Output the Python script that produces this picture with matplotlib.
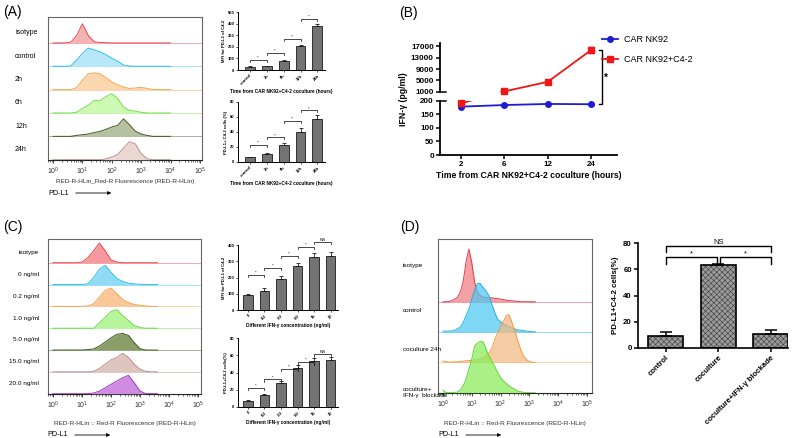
import numpy as np
import matplotlib
matplotlib.use("Agg")
import matplotlib.pyplot as plt
import matplotlib.transforms as mtransforms
from matplotlib.patches import Rectangle
from matplotlib.lines import Line2D

plt.rcParams['font.family'] = ['Liberation Sans', 'DejaVu Sans']
plt.rcParams['hatch.linewidth'] = 0.4

W, H = 800, 438

# ---------------- data ----------------
# (A) flow histograms, heights in row units on a log10 grid
hist_a_logx = [0.0, 0.2, 0.4, 0.6, 0.8, 1.0, 1.2, 1.4, 1.6, 1.8, 2.0,
               2.2, 2.4, 2.6, 2.8, 3.0, 3.2, 3.4, 3.6, 3.8, 4.0]
hist_a_labels = ['isotype', 'control', '2h', '6h', '12h', '24h']
hist_a_isotype = [0, 0, 0, 0.03, 0.3, 0.82, 0.32, 0.05, 0.02, 0.01, 0, 0, 0, 0, 0, 0, 0, 0, 0, 0, 0]
hist_a_control = [0, 0, 0, 0.01, 0.26, 0.55, 0.78, 0.7, 0.62, 0.5, 0.34, 0.22, 0.05, 0.01, 0, 0, 0, 0, 0, 0, 0]
hist_a_2h = [0, 0, 0, 0, 0.08, 0.4, 0.68, 0.72, 0.68, 0.52, 0.33, 0.21, 0.11, 0.05, 0.07, 0.1, 0.05, 0.01, 0, 0, 0]
hist_a_6h = [0, 0, 0, 0, 0.03, 0.19, 0.33, 0.54, 0.52, 0.7, 0.83, 0.62, 0.26, 0.11, 0.08, 0.03, 0, 0, 0, 0, 0]
hist_a_12h = [0, 0, 0, 0, 0.04, 0.07, 0.1, 0.16, 0.21, 0.3, 0.4, 0.47, 0.75, 0.5, 0.22, 0.1, 0.04, 0, 0, 0, 0]
hist_a_24h = [0, 0, 0, 0, 0, 0, 0, 0, 0, 0.04, 0.11, 0.22, 0.5, 0.77, 0.68, 0.26, 0.04, 0, 0, 0, 0]

# (A) bar charts
a_groups = ['control', '2h', '6h', '12h', '24h']
a_mfi = [28, 32, 80, 205, 380]
a_mfi_err = [3, 5, 6, 10, 15]
a_mfi_sig_y = [86, 146, 267, 440]
a_mfi_sig = ['*', '*', '*', '*']
a_pct = [6, 10, 22, 40, 57]
a_pct_err = [1, 2.5, 3, 5.5, 5.5]
a_pct_sig_y = [22.7, 33, 55, 69]
a_pct_sig = ['*', '*', '*', '*']

# (B) IFN-gamma
b_times = ['2', '6', '12', '24']
b_nk92 = [178, 184, 188, 187]
b_nk92_err = [3, 2, 2, 2]
b_cocult = [190, 1100, 4500, 15800]
b_cocult_err = [10, 150, 300, 1000]
b_yticks = [0, 50, 100, 150, 200, 1000, 5000, 9000, 13000, 17000]

# (C) flow histograms
hist_c_logx = [0.0, 0.2, 0.4, 0.6, 0.8, 1.0, 1.2, 1.4, 1.6, 1.8, 2.0,
               2.2, 2.4, 2.6, 2.8, 3.0, 3.2, 3.4, 3.6]
hist_c_labels = ['isotype', '0 ng/ml', '0.2 ng/ml', '1.0 ng/ml', '5.0 ng/ml', '15.0 ng/ml', '20.0 ng/ml']
hist_c_isotype = [0, 0, 0, 0, 0, 0.03, 0.23, 0.55, 0.9, 0.55, 0.13, 0.03, 0, 0, 0, 0, 0, 0, 0]
hist_c_0 = [0, 0, 0, 0, 0, 0, 0.03, 0.32, 0.7, 0.88, 0.56, 0.28, 0.14, 0.06, 0.03, 0.01, 0, 0, 0]
hist_c_02 = [0, 0, 0, 0, 0, 0, 0.02, 0.12, 0.43, 0.73, 0.84, 0.58, 0.32, 0.17, 0.09, 0.05, 0.02, 0, 0]
hist_c_1 = [0, 0, 0, 0, 0, 0, 0, 0, 0.24, 0.5, 0.76, 0.85, 0.58, 0.35, 0.12, 0.03, 0, 0, 0]
hist_c_5 = [0, 0, 0, 0, 0, 0, 0.02, 0.05, 0.18, 0.37, 0.56, 0.72, 0.76, 0.67, 0.34, 0.06, 0, 0, 0]
hist_c_15 = [0, 0, 0, 0, 0, 0, 0, 0.03, 0.15, 0.35, 0.55, 0.66, 0.85, 0.66, 0.35, 0.12, 0.02, 0, 0]
hist_c_20 = [0, 0, 0, 0, 0, 0, 0, 0.03, 0.12, 0.27, 0.43, 0.58, 0.73, 0.84, 0.5, 0.12, 0, 0, 0]

# (C) bar charts
c_groups = ['0', '0.2', '1.0', '5.0', '15', '20']
c_mfi = [90, 120, 190, 270, 325, 330]
c_mfi_err = [10, 15, 18, 22, 28, 30]
c_mfi_sig_y = [215, 258, 332, 388, 418]
c_mfi_sig = ['*', '*', '*', '*', 'NS']
c_pct = [7, 14, 28, 45, 53, 54]
c_pct_err = [1, 1.5, 2.5, 3.5, 4, 3.5]
c_pct_sig_y = [22, 32, 44, 52, 61]
c_pct_sig = ['*', '*', '*', '*', 'NS']

# (D) flow histograms
hist_d_logx = [0.0, 0.1, 0.2, 0.3, 0.4, 0.5, 0.6, 0.7, 0.8, 0.9, 1.0,
               1.1, 1.2, 1.3, 1.4, 1.5, 1.6, 1.7, 1.8, 1.9, 2.0,
               2.1, 2.2, 2.3, 2.4, 2.5, 2.6, 2.7, 2.8, 2.9, 3.0, 3.1, 3.2]
hist_d_labels = ['isotype', 'control', 'coculture 24h', 'coculture+\nIFN-\u03b3  blockade']
hist_d_isotype = [0, 0, 0.01, 0.03, 0.08, 0.14, 0.31, 0.64, 1.3, 1.74, 1.3, 0.64, 0.31, 0.2, 0.16, 0.14, 0.13,
                  0.13, 0.11, 0.1, 0.09, 0.07, 0.05, 0.04, 0.03, 0.02, 0.01, 0, 0, 0, 0, 0, 0]
hist_d_control = [0.03, 0.03, 0.03, 0.04, 0.05, 0.11, 0.16, 0.31, 0.53, 0.75, 1.08, 1.4, 1.6, 1.6, 1.46, 1.35,
                  1.19, 0.91, 0.64, 0.42, 0.34, 0.27, 0.23, 0.19, 0.14, 0.1, 0.07, 0.06, 0.05, 0.03, 0.02, 0.01, 0.01]
hist_d_cocult = [0.05, 0.02, 0.01, 0.01, 0.02, 0.02, 0.03, 0.04, 0.05, 0.06, 0.07, 0.08, 0.09, 0.12, 0.16, 0.23,
                 0.31, 0.47, 0.75, 0.97, 1.19, 1.35, 1.55, 1.57, 1.3, 1.02, 0.69, 0.42, 0.2, 0.09, 0.03, 0.01, 0]
hist_d_block = [0.08, 0.01, 0, 0, 0.01, 0.02, 0.09, 0.22, 0.44, 0.77, 1.1, 1.54, 1.63, 1.7, 1.67, 1.43,
                1.21, 1.04, 0.86, 0.66, 0.49, 0.38, 0.3, 0.22, 0.16, 0.11, 0.05, 0.03, 0.01, 0, 0, 0, 0]

# (D) bar chart
d_groups = ['control', 'coculture', 'coculture+IFN-\u03b3 blockade']
d_pct = [9, 63, 11]
d_pct_err = [3.5, 0.8, 3]

# ---------------- figure ----------------
fig = plt.figure(figsize=(W / 100, H / 100), dpi=100)


def px_axes(x0, y0, x1, y1):
    return fig.add_axes([x0 / W, 1 - y1 / H, (x1 - x0) / W, (y1 - y0) / H])


def fx(x):
    return x / W


def fy(y):
    return 1 - y / H


def hist_panel(ax, logx, curves, colors, alpha, xlo, xhi, ytop):
    xs = 10.0 ** np.asarray(logx)
    n = len(curves)
    for k, (h, (fc, ec)) in enumerate(zip(curves, colors)):
        base = n - 1 - k
        top = base + np.asarray(h)
        ax.axhline(base, color=ec, lw=0.6, alpha=0.55, zorder=1)
        ax.fill_between(xs, base, top, color=fc, alpha=alpha, lw=0, zorder=2 + 2 * k)
        ax.plot(xs, top, color=ec, lw=0.7, zorder=3 + 2 * k)
    ax.set_xscale('log')
    ax.set_xlim(10 ** xlo, 10 ** xhi)
    ax.set_ylim(0, ytop)
    ax.set_yticks([])
    ax.set_xticks([1, 10, 100, 1000, 1e4, 1e5])
    ax.tick_params(axis='x', which='major', length=2.5, width=0.5, labelsize=5, pad=2,
                   labelcolor='#333333')
    ax.tick_params(axis='x', which='minor', length=1.3, width=0.4)
    for s in ax.spines.values():
        s.set_color('#666666')
        s.set_linewidth(0.8)
    ax.spines['bottom'].set_color('#222222')


def pd_l1_arrow(x, y, xlabel_text, xlabel_x):
    fig.text(fx(xlabel_x), fy(y - 12), xlabel_text, fontsize=4.6, ha='center', va='center', color='#333333')
    fig.text(fx(x), fy(y), 'PD-L1', fontsize=5.2, ha='left', va='center')
    fig.add_artist(matplotlib.patches.FancyArrowPatch((fx(x + 25), fy(y)), (fx(x + 66), fy(y)),
                                                      transform=fig.transFigure, arrowstyle='-|>',
                                                      mutation_scale=5, lw=0.6, color='k'))


def bracket(ax, i, j, y, txt, h, fs, lw=0.5):
    ax.plot([i, i, j, j], [y - h, y, y, y - h], color='k', lw=lw, clip_on=False)
    ax.text((i + j) / 2, y, txt, ha='center', va='bottom', fontsize=fs, clip_on=False)


def small_bars(ax, groups, vals, errs, sig_y, sig, ymax, ystep, ylabel, xlabel, xlim):
    x = np.arange(len(vals))
    ax.bar(x, vals, width=0.58, color='#737373', edgecolor='#1a1a1a', lw=0.6, zorder=2)
    ax.errorbar(x, vals, yerr=[np.zeros(len(errs)), errs], fmt='none', ecolor='#1a1a1a',
                elinewidth=0.6, capsize=1.6, capthick=0.6, zorder=3)
    for k, (yv, txt) in enumerate(zip(sig_y, sig)):
        bracket(ax, x[k], x[k + 1], yv, txt, ymax * 0.035, 3.2)
    ax.set_xlim(*xlim)
    ax.set_ylim(0, ymax)
    ax.set_yticks(np.arange(0, ymax + 1, ystep))
    ax.set_xticks(x)
    ax.set_xticklabels(groups, rotation=45, ha='right', rotation_mode='anchor', fontsize=3, fontweight='bold')
    for lab in ax.get_yticklabels():
        lab.set_fontweight('bold')
    ax.tick_params(length=1.5, width=0.5, labelsize=3, pad=1)
    for s in ['top', 'right']:
        ax.spines[s].set_visible(False)
    for s in ['left', 'bottom']:
        ax.spines[s].set_linewidth(0.7)
    ax.set_ylabel(ylabel, fontsize=3.1, fontweight='bold', labelpad=1.5)
    ax.set_xlabel(xlabel, fontsize=3.4, fontweight='bold', labelpad=2)


# ---- (A) histograms ----
ax_ah = px_axes(47.7, 17, 201.7, 159.7)
a_colors = [('#f6b3b3', '#e8474f'), ('#b6e8fa', '#2cc0ea'), ('#fbd7b0', '#f2a550'),
            ('#cdf9b3', '#70e04c'), ('#b5c0a0', '#3d5a22'), ('#ecd6d2', '#b98f88')]
hist_panel(ax_ah, hist_a_logx,
           [hist_a_isotype, hist_a_control, hist_a_2h, hist_a_6h, hist_a_12h, hist_a_24h],
           a_colors, 1.0, -0.18, 5.06, 6.11)
tr = mtransforms.blended_transform_factory(fig.transFigure, ax_ah.transData)
for k, lab in enumerate(hist_a_labels):
    ax_ah.text(fx(15), len(hist_a_labels) - 1 - k + 0.43, lab, transform=tr, fontsize=5,
               ha='left', va='center')
pd_l1_arrow(48, 193, 'RED-R-HLin_Red-R Fluorescence (RED-R-HLin)', 125)

# ---- (A) bars ----
ax_a1 = px_axes(238, 12, 325, 70)
small_bars(ax_a1, a_groups, a_mfi, a_mfi_err, a_mfi_sig_y, a_mfi_sig, 500, 100,
           'MFI for PD-L1 of C4-2', 'Time from CAR NK92+C4-2 coculture (hours)', (-0.7, 4.45))
ax_a2 = px_axes(238, 102, 325, 162)
small_bars(ax_a2, a_groups, a_pct, a_pct_err, a_pct_sig_y, a_pct_sig, 80, 20,
           'PD-L1+ C4-2 cells (%)', 'Time from CAR NK92+C4-2 coculture (hours)', (-0.7, 4.45))

# ---- (B) IFN-gamma with broken axis ----
blue, red = '#1c1cd4', '#f01616'
axb = px_axes(440, 42.8, 617, 155)
brk_y = [-1000, 0, 200, 1000, 100000]
brk_t = [-271.5, 0, 54.3, 63.3, 63.3 + 99000 / 4000 * 11.3]
axb.set_yscale('function', functions=(lambda v: np.interp(v, brk_y, brk_t),
                                      lambda t: np.interp(t, brk_t, brk_y)))
bx = np.arange(len(b_times))
axb.plot(bx, b_nk92, color=blue, lw=1.3, zorder=3)
axb.errorbar(bx, b_nk92, yerr=b_nk92_err, fmt='o', color=blue, ms=4, capsize=2, elinewidth=1, zorder=4)
for y0, hgt in [(0, 200), (1000, 60000)]:
    clip = Rectangle((-1, y0), 6, hgt, transform=axb.transData)
    ln, = axb.plot(bx, b_cocult, color=red, lw=1.3, zorder=3)
    ln.set_clip_path(clip)
axb.errorbar(bx, b_cocult, yerr=b_cocult_err, fmt='s', color=red, ms=4, capsize=2, elinewidth=1,
             zorder=4, clip_on=False)
axb.set_xlim(-0.48, 3.59)
axb.set_ylim(0, 18300)
axb.set_yticks(b_yticks)
axb.set_yticklabels([str(v) for v in b_yticks])
axb.set_xticks(bx)
axb.set_xticklabels(b_times)
axb.minorticks_off()
axb.spines['top'].set_visible(False)
axb.spines['right'].set_visible(False)
axb.spines['left'].set_visible(False)
axb.spines['bottom'].set_linewidth(1.3)
ytr = axb.get_yaxis_transform()
for seg in [(0, 200), (1000, 18300)]:
    axb.plot([0, 0], seg, transform=ytr, color='k', lw=1.3, clip_on=False)
for yb in [200, 1000]:
    axb.plot([0, 0.035], [yb, yb], transform=ytr, color='k', lw=1.1, clip_on=False)
axb.tick_params(length=3, width=1.1, labelsize=5.8, pad=1.5)
for lab in axb.get_xticklabels() + axb.get_yticklabels():
    lab.set_fontweight('bold')
axb.set_ylabel('IFN-\u03b3 (pg/ml)', fontsize=6.3, fontweight='bold', labelpad=2)
axb.set_xlabel('Time from CAR NK92+C4-2 coculture (hours)', fontsize=6.2, fontweight='bold', labelpad=2)
# significance bracket between the two series at 24 h
axb.plot([3.17, 3.25, 3.25, 3.17], [b_cocult[3], b_cocult[3], b_nk92[3], b_nk92[3]],
         color='k', lw=1, clip_on=False)
axb.text(3.33, 5800, '*', fontsize=7, fontweight='bold', ha='center', va='center', clip_on=False)
handles = [Line2D([], [], color=blue, marker='o', ms=4, lw=1.3),
           Line2D([], [], color=red, marker='s', ms=4, lw=1.3)]
fig.legend(handles, ['CAR NK92', 'CAR NK92+C4-2'], loc='upper left',
           bbox_to_anchor=(fx(602), fy(35)), frameon=False, fontsize=6.5, handlelength=1.8,
           labelspacing=1.25, borderaxespad=0, borderpad=0, handletextpad=0.6)

# ---- (C) histograms ----
ax_ch = px_axes(47.7, 238.7, 201, 393.7)
c_colors = [('#f49a9c', '#e8474f'), ('#90dcf6', '#2cc0ea'), ('#fac898', '#f2a550'),
            ('#b8f59a', '#66dd44'), ('#8a9f68', '#3d5a22'), ('#dfc5c0', '#b98f88'),
            ('#cf8ce0', '#9b35c4')]
hist_panel(ax_ch, hist_c_logx,
           [hist_c_isotype, hist_c_0, hist_c_02, hist_c_1, hist_c_5, hist_c_15, hist_c_20],
           c_colors, 1.0, -0.18, 5.1, 7.1)
tr = mtransforms.blended_transform_factory(fig.transFigure, ax_ch.transData)
for k, lab in enumerate(hist_c_labels):
    ax_ch.text(fx(39), len(hist_c_labels) - 1 - k + 0.46, lab, transform=tr, fontsize=4.6,
               ha='right', va='center')
pd_l1_arrow(47, 435, 'RED-R-HLin :: Red-R Fluorescence (RED-R-HLin)', 125)

# ---- (C) bars ----
ax_c1 = px_axes(238, 245, 338, 310)
small_bars(ax_c1, c_groups, c_mfi, c_mfi_err, c_mfi_sig_y, c_mfi_sig, 400, 100,
           'MFI for PD-L1 of C4-2', 'Different IFN-\u03b3 concentration (ng/ml)', (-0.6, 5.45))
ax_c2 = px_axes(238, 338, 338, 407)
small_bars(ax_c2, c_groups, c_pct, c_pct_err, c_pct_sig_y, c_pct_sig, 80, 20,
           'PD-L1+C4-2 cells(%)', 'Different IFN-\u03b3 concentration (ng/ml)', (-0.6, 5.45))

# ---- (D) histograms ----
ax_dh = px_axes(437.7, 239, 592.3, 392.7)
d_colors = [('#f07a80', '#e03a48'), ('#4cc8f0', '#20b0e0'), ('#f5b880', '#f09a40'), ('#88ec58', '#5cd830')]
hist_panel(ax_dh, hist_d_logx, [hist_d_isotype, hist_d_control, hist_d_cocult, hist_d_block],
           d_colors, 0.72, -0.18, 5.18, 5.07)
tr = mtransforms.blended_transform_factory(fig.transFigure, ax_dh.transData)
for lab, yl in zip(hist_d_labels, [4.18, 2.72, 1.41, 0.0]):
    ax_dh.text(fx(403), yl, lab, transform=tr, fontsize=4.6, ha='left', va='center', linespacing=1.3)
pd_l1_arrow(438, 435, 'RED-R-HLin :: Red-R Fluorescence (RED-R-HLin)', 515)

# ---- (D) bars ----
ax_d = px_axes(638, 243, 788, 348)
dx = np.arange(len(d_pct))
ax_d.bar(dx, d_pct, width=0.66, color='#9c9c9c', edgecolor='#3a3a3a', hatch='xxxxxx', lw=0, zorder=2)
ax_d.bar(dx, d_pct, width=0.66, fill=False, edgecolor='k', lw=1.2, zorder=3)
ax_d.errorbar(dx, d_pct, yerr=[np.zeros(len(d_pct_err)), d_pct_err], fmt='none', ecolor='k',
              elinewidth=1.1, capsize=4, capthick=1.1, zorder=4)
bracket(ax_d, dx[0], dx[1] - 0.03, 69, '*', 5, 5.5, lw=1)
bracket(ax_d, dx[1] + 0.03, dx[2], 69, '*', 5, 5.5, lw=1)
bracket(ax_d, dx[0], dx[2], 78, 'NS', 5, 5.5, lw=1)
ax_d.set_xlim(-0.53, 2.33)
ax_d.set_ylim(0, 80)
ax_d.set_yticks([0, 20, 40, 60, 80])
ax_d.set_xticks(dx)
ax_d.set_xticklabels(d_groups, rotation=45, ha='right', rotation_mode='anchor')
for s in ['top', 'right']:
    ax_d.spines[s].set_visible(False)
for s in ['left', 'bottom']:
    ax_d.spines[s].set_linewidth(1.2)
ax_d.tick_params(length=3, width=1.1, labelsize=5.6, pad=1.5)
for lab in ax_d.get_xticklabels() + ax_d.get_yticklabels():
    lab.set_fontweight('bold')
ax_d.set_ylabel('PD-L1+C4-2 cells(%)', fontsize=5.8, fontweight='bold', labelpad=3)

# ---- panel letters ----
for txt, x, y in [('(A)', 3, 12), ('(B)', 399, 13), ('(C)', 3, 227), ('(D)', 400, 227)]:
    fig.text(fx(x), fy(y), txt, fontsize=10, ha='left', va='center')

fig.savefig('out.png', dpi=100)
